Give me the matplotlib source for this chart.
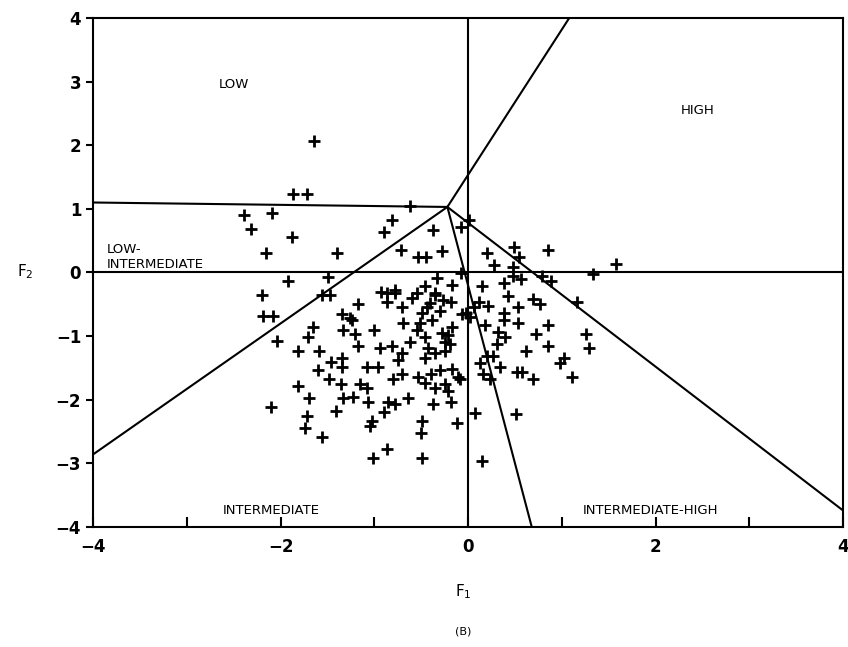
import matplotlib
matplotlib.use('Agg')
import matplotlib.pyplot as plt

# discriminant scores (F1, F2)
f1 = [-1.64, -1.87, -1.72, -2.39, -2.09, -2.31, -1.88, -2.15, -1.40, -0.90,
      -0.81, -0.71, -1.49, -1.92, -0.62, -0.37, -0.08, 0.01, -0.53, -0.45,
      -0.28, 0.20, 0.28, 0.49, 0.54, 0.48, 0.85, 1.33, 1.58, -0.08,
      -0.33, 0.48, 0.57, 0.79, 0.89, 0.15, -0.17, 0.38, 0.43, 0.69,
      0.77, 1.16, 0.12, 0.21, 0.53, 0.38, 0.38, 0.53, 0.85, -0.02,
      0.02, 0.18, 0.32, 0.39, 0.73, 1.26, 0.31, 0.85, 1.29, 0.62,
      0.27, 0.20, 1.02, 0.98, 0.13, 0.34, 0.52, 0.58, 0.16, 0.69,
      1.11, 0.23, 0.07, 0.51, 0.15, -0.09, -0.12, -0.86, -0.78, -0.86,
      -0.46, -0.54, -0.35, -0.27, -0.18, -1.17, -0.70, -0.49, -0.44, -0.06,
      -1.26, -0.69, -0.51, -1.00, -0.17, -0.54, -1.21, -0.46, -0.21, -0.19,
      -1.17, -0.94, -0.81, -0.43, -0.35, -0.25, -0.70, -0.75, -0.46, -1.08,
      -0.96, -0.30, -0.17, -0.70, -0.80, -0.53, -0.46, -0.35, -0.21, -0.11,
      -1.15, -1.08, -1.23, -1.07, -0.85, -0.78, -0.90, -0.64, -0.37, -0.18,
      -1.02, -1.05, -0.49, -0.50, -0.86, -1.01, -0.49, -2.20, -1.56, -1.47,
      -2.19, -2.08, -1.34, -1.24, -1.65, -1.33, -1.71, -2.04, -1.81, -1.59,
      -1.46, -1.34, -1.34, -1.60, -1.48, -1.81, -1.35, -1.70, -1.33, -2.10,
      -1.72, -1.41, -1.74, -1.56, -0.93, -0.78, -0.35, -0.41, -0.30, -0.38,
      -0.28, -0.25, -0.60, -0.62, -0.40, -0.25, 0.06]
f2 = [2.06, 1.23, 1.24, 0.90, 0.94, 0.68, 0.56, 0.31, 0.31, 0.63,
      0.82, 0.35, -0.07, -0.14, 1.04, 0.66, 0.71, 0.83, 0.24, 0.24,
      0.33, 0.30, 0.11, 0.40, 0.24, 0.09, 0.35, -0.03, 0.13, -0.01,
      -0.08, -0.05, -0.11, -0.05, -0.13, -0.22, -0.20, -0.16, -0.37, -0.42,
      -0.49, -0.46, -0.47, -0.53, -0.55, -0.63, -0.74, -0.79, -0.83, -0.63,
      -0.70, -0.83, -0.94, -1.02, -0.96, -0.97, -1.12, -1.15, -1.18, -1.24,
      -1.32, -1.32, -1.34, -1.42, -1.42, -1.49, -1.56, -1.56, -1.59, -1.68,
      -1.64, -1.67, -2.21, -2.23, -2.97, -1.67, -2.36, -0.33, -0.33, -0.47,
      -0.22, -0.33, -0.33, -0.44, -0.47, -0.49, -0.55, -0.63, -0.55, -0.65,
      -0.72, -0.79, -0.80, -0.90, -0.86, -0.91, -0.96, -1.02, -0.99, -1.12,
      -1.16, -1.18, -1.15, -1.18, -1.26, -1.24, -1.27, -1.38, -1.35, -1.49,
      -1.48, -1.54, -1.51, -1.60, -1.67, -1.65, -1.73, -1.82, -1.86, -1.65,
      -1.75, -1.81, -1.96, -2.04, -2.04, -2.06, -2.20, -1.98, -2.06, -2.04,
      -2.33, -2.42, -2.33, -2.53, -2.77, -2.91, -2.91, -0.36, -0.36, -0.36,
      -0.69, -0.69, -0.65, -0.75, -0.85, -0.91, -1.02, -1.07, -1.24, -1.24,
      -1.40, -1.34, -1.48, -1.54, -1.67, -1.79, -1.76, -1.97, -1.97, -2.11,
      -2.25, -2.17, -2.44, -2.58, -0.31, -0.28, -0.36, -0.48, -0.60, -0.75,
      -0.95, -1.10, -0.40, -1.10, -1.60, -1.75, -0.55]

# group boundaries: all meet at one junction point
junction = (-0.22, 1.03)
boundary_ends = [(-4.0, 1.10), (1.08, 4.0), (-4.0, -2.86), (0.68, -4.0), (4.0, -3.74)]

region_labels = ['LOW', 'HIGH', 'LOW-\nINTERMEDIATE', 'INTERMEDIATE', 'INTERMEDIATE-HIGH']
label_pos = [(-2.5, 2.95), (2.45, 2.55), (-3.85, 0.24), (-2.1, -3.74), (1.95, -3.74)]
label_ha = ['center', 'center', 'left', 'center', 'center']

fig = plt.figure(figsize=(8.48, 6.47), dpi=100)
ax = fig.add_axes([0.1097, 0.1855, 0.8844, 0.7867])

ax.axhline(0, color='black', lw=1.5)
ax.axvline(0, color='black', lw=1.5)
for ex, ey in boundary_ends:
    ax.plot([junction[0], ex], [junction[1], ey], color='black', lw=1.5)

ax.plot(f1, f2, linestyle='none', marker='+', color='black',
        markersize=9, markeredgewidth=2)

for txt, (tx, ty), ha in zip(region_labels, label_pos, label_ha):
    ax.text(tx, ty, txt, ha=ha, va='center', fontsize=9.5, linespacing=1.25)

ax.set_xlim(-4, 4)
ax.set_ylim(-4, 4)
ax.set_xticks([-4, -2, 0, 2, 4])
ax.set_xticks([-3, -1, 1, 3], minor=True)
ax.set_xticklabels(['\u22124', '\u22122', '0', '2', '4'])
ax.set_yticks(range(-4, 5))
ax.set_yticklabels(['\u22124', '\u22123', '\u22122', '\u22121', '0', '1', '2', '3', '4'])
ax.tick_params(axis='x', which='both', direction='in', length=7, width=1.5,
               labelsize=12, pad=8)
ax.tick_params(axis='y', direction='out', length=5, width=1.5, labelsize=12)
for lab in ax.get_xticklabels() + ax.get_yticklabels():
    lab.set_fontweight('bold')
for sp in ax.spines.values():
    sp.set_linewidth(1.5)

fig.text(463 / 848, 1 - 592 / 647, 'F$_1$', ha='center', va='center', fontsize=11)
fig.text(25 / 848, 1 - 272 / 647, 'F$_2$', ha='center', va='center', fontsize=11)
fig.text(463 / 848, 1 - 632 / 647, '(B)', ha='center', va='center', fontsize=8)

fig.savefig('out.png', dpi=100)
